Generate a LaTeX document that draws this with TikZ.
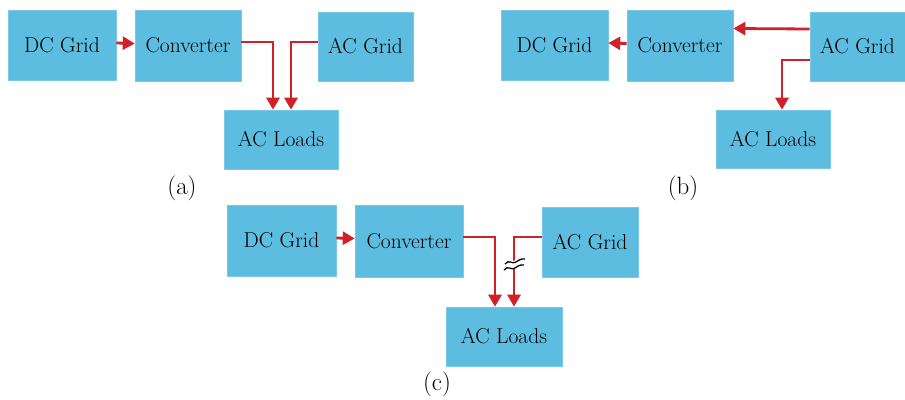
\documentclass[tikz,border=0pt]{standalone}
\usepackage{fontspec}
\usepackage{tikz}
\usetikzlibrary{arrows.meta}
\definecolor{boxblue}{RGB}{92,189,224}
\definecolor{boxedge}{RGB}{120,200,230}
\definecolor{flowred}{RGB}{208,32,40}

\begin{document}
\begin{tikzpicture}[x=1pt,y=-1pt,
  blk/.style={draw=boxedge, line width=0.6pt, fill=boxblue, inner sep=0pt, font=\fontsize{21.5}{24}\selectfont},
  flow/.style={flowred, line width=2.8pt, -{Triangle[length=12pt,width=13pt]}},
  lbl/.style={font=\fontsize{25}{28}\selectfont}]
\useasboundingbox (0,0) rectangle (905,399);
% (a)
\node[blk, minimum width=108, minimum height=70] (dca) at (62,45) {DC Grid};
\node[blk, minimum width=106, minimum height=71] (cva) at (188,45.5) {Converter};
\node[blk, minimum width=95, minimum height=69] (aca) at (365.5,46.5) {AC Grid};
\node[blk, minimum width=114, minimum height=59] (lda) at (281,139.5) {AC Loads};
\node[lbl] (capa) at (182,188) {(a)};
\draw[flow] ([yshift=2pt]dca.east) -- ([yshift=2pt]cva.west);
\draw[flow] ([yshift=3.5pt]cva.east) -| ([xshift=-8pt]lda.north);
\draw[flow] ([yshift=4.5pt]aca.west) -| ([xshift=10pt]lda.north);
% (b)
\node[blk, minimum width=107, minimum height=70] (dcb) at (554.5,45) {DC Grid};
\node[blk, minimum width=106, minimum height=71] (cvb) at (680,45.5) {Converter};
\node[blk, minimum width=95, minimum height=69] (acb) at (857.5,46.5) {AC Grid};
\node[blk, minimum width=114, minimum height=58] (ldb) at (773,139) {AC Loads};
\node[lbl] (capb) at (683,188) {(b)};
\draw[flow] ([yshift=2pt]cvb.west) -- ([yshift=2pt]dcb.east);
\draw[flow] ([yshift=17.5pt]acb.west) -- ([yshift=17pt]cvb.east);
\draw[flow] ([yshift=-13.5pt]acb.west) -| ([xshift=9pt]ldb.north);
% (c)
\node[blk, minimum width=109, minimum height=71] (dcc) at (281.5,240.5) {DC Grid};
\node[blk, minimum width=108, minimum height=72] (cvc) at (409,241) {Converter};
\node[blk, minimum width=96, minimum height=70] (acc) at (590,242) {AC Grid};
\node[blk, minimum width=116, minimum height=59] (ldc) at (504,336.5) {AC Loads};
\node[lbl] (capc) at (437,384) {(c)};
\draw[flow] ([yshift=2.5pt]dcc.east) -- ([yshift=2.5pt]cvc.west);
\draw[flow] ([yshift=4pt]cvc.east) -| ([xshift=-9pt]ldc.north);
\draw[flow] ([yshift=5pt]acc.west) -| ([xshift=10pt]ldc.north);
% break mark
\fill[white] (504,263) -- (525,258) -- (525,266) -- (504,271) -- cycle;
\draw[line width=1.3pt] (505,264) .. controls (509,259) and (512,264) .. (515,262.5) .. controls (518,261) and (521,258) .. (525,259);
\draw[line width=1.3pt] (504,270) .. controls (508,265) and (511,270) .. (514,268.5) .. controls (517,267) and (520,264) .. (524,265);
\end{tikzpicture}
\end{document}
